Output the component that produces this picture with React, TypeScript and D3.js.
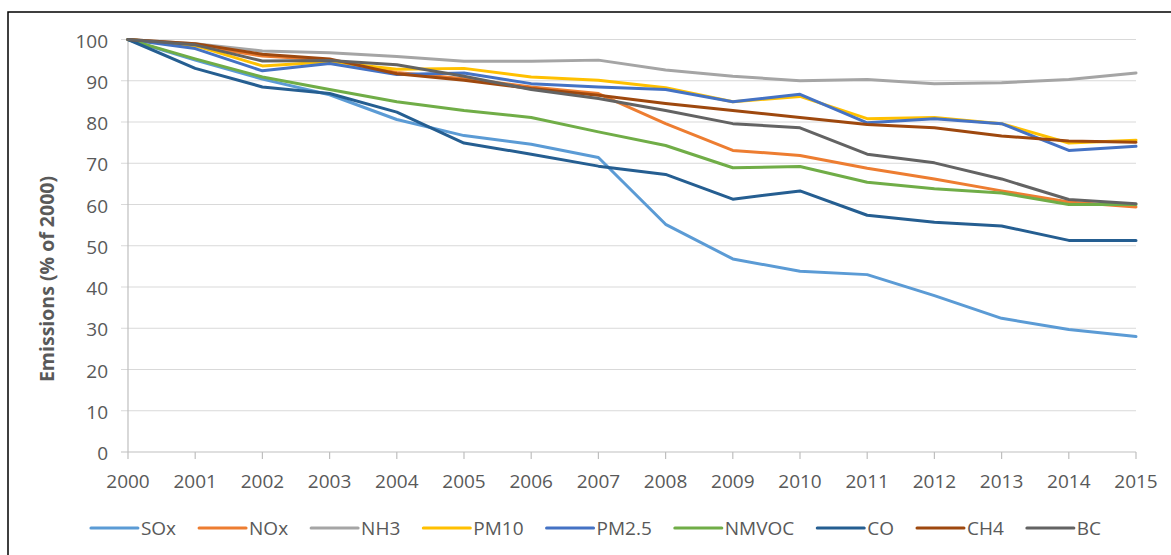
import React, { useRef, useEffect } from 'react';
import * as d3 from 'd3';

const years = [2000, 2001, 2002, 2003, 2004, 2005, 2006, 2007, 2008, 2009, 2010, 2011, 2012, 2013, 2014, 2015];
const yTicks = [0, 10, 20, 30, 40, 50, 60, 70, 80, 90, 100];

const seriesNames = ['SOx', 'NOx', 'NH3', 'PM10', 'PM2.5', 'NMVOC', 'CO', 'CH4', 'BC'];
const seriesColors = ['#5B9BD5', '#ED7D31', '#A5A5A5', '#FFC000', '#4472C4', '#70AD47', '#255E91', '#9E480E', '#636363'];

const sox = [100, 95, 90.4, 86.6, 80.6, 76.7, 74.6, 71.4, 55.2, 46.8, 43.8, 43.0, 37.9, 32.4, 29.7, 28.0];
const nox = [100, 98.5, 96, 95, 92, 90.5, 88.5, 86.9, 79.6, 73.1, 71.9, 68.8, 66.2, 63.3, 60.6, 59.4];
const nh3 = [100, 99, 97.2, 96.8, 95.9, 94.7, 94.7, 95.0, 92.6, 91.1, 90.0, 90.3, 89.3, 89.5, 90.3, 91.9];
const pm10 = [100, 98.5, 93.6, 94.6, 92.8, 93.0, 90.9, 90.1, 88.3, 84.9, 86.2, 80.8, 81.1, 79.6, 74.9, 75.6];
const pm25 = [100, 97.8, 92.4, 94.2, 91.5, 91.9, 89.3, 88.5, 87.9, 84.9, 86.7, 79.8, 80.8, 79.6, 73.1, 74.1];
const nmvoc = [100, 95.3, 90.9, 87.9, 84.9, 82.8, 81.1, 77.6, 74.3, 68.9, 69.2, 65.4, 63.8, 62.8, 60.0, 60.0];
const co = [100, 93, 88.5, 86.9, 82.4, 74.9, 72.2, 69.3, 67.3, 61.3, 63.3, 57.4, 55.7, 54.8, 51.3, 51.3];
const ch4 = [100, 99, 96.4, 95.3, 91.7, 90.1, 88.1, 86.5, 84.5, 82.8, 81.1, 79.4, 78.6, 76.6, 75.4, 75.1];
const bc = [100, 98.7, 94.8, 94.9, 93.9, 91.1, 87.9, 85.7, 82.8, 79.6, 78.6, 72.2, 70.1, 66.2, 61.2, 60.2];

const seriesValues = [sox, nox, nh3, pm10, pm25, nmvoc, co, ch4, bc];

const W = 1171;
const H = 555;
const FONT = '"Open Sans", sans-serif';

const App = () => {
  const svgRef = useRef<SVGSVGElement | null>(null);

  useEffect(() => {
    if (!svgRef.current) return;
    d3.select(svgRef.current).selectAll('*').remove();
    const svg = d3.select(svgRef.current);

    const x = d3.scaleLinear().domain([2000, 2015]).range([128, 1136]);
    const y = d3.scaleLinear().domain([0, 100]).range([452, 39.5]);

    // white background + outer frame (runs off the right/bottom edge)
    svg.append('rect').attr('width', W).attr('height', H).attr('fill', '#fff');
    svg.append('rect')
      .attr('x', 8).attr('y', 12)
      .attr('width', 1300).attr('height', 700)
      .attr('fill', 'none')
      .attr('stroke', '#000')
      .attr('stroke-width', 1.5);

    // gridlines
    svg.append('g')
      .selectAll('line')
      .data(yTicks.filter(t => t > 0))
      .enter()
      .append('line')
      .attr('x1', x(2000) - 7)
      .attr('x2', x(2015))
      .attr('y1', d => y(d))
      .attr('y2', d => y(d))
      .attr('stroke', '#D9D9D9')
      .attr('stroke-width', 1.2);

    // axes
    svg.append('line')
      .attr('x1', x(2000)).attr('x2', x(2000))
      .attr('y1', y(0)).attr('y2', y(100))
      .attr('stroke', '#BFBFBF').attr('stroke-width', 1.2);
    svg.append('line')
      .attr('x1', x(2000) - 7).attr('x2', x(2015))
      .attr('y1', y(0)).attr('y2', y(0))
      .attr('stroke', '#BFBFBF').attr('stroke-width', 1.2);
    svg.append('g')
      .selectAll('line')
      .data(years)
      .enter()
      .append('line')
      .attr('x1', d => x(d)).attr('x2', d => x(d))
      .attr('y1', y(0)).attr('y2', y(0) + 7)
      .attr('stroke', '#BFBFBF').attr('stroke-width', 1.2);

    // y tick labels
    svg.append('g')
      .selectAll('text')
      .data(yTicks)
      .enter()
      .append('text')
      .attr('x', 108)
      .attr('y', d => y(d) + 1.5)
      .attr('dy', '0.35em')
      .attr('text-anchor', 'end')
      .attr('fill', '#595959')
      .attr('font-family', FONT)
      .attr('font-size', '19px')
      .text(d => d);

    // x tick labels
    svg.append('g')
      .selectAll('text')
      .data(years)
      .enter()
      .append('text')
      .attr('x', d => x(d))
      .attr('y', 481)
      .attr('dy', '0.35em')
      .attr('text-anchor', 'middle')
      .attr('fill', '#595959')
      .attr('font-family', FONT)
      .attr('font-size', '19px')
      .text(d => d);

    // y axis title
    svg.append('text')
      .attr('transform', 'translate(47, 279) rotate(-90)')
      .attr('dy', '0.35em')
      .attr('text-anchor', 'middle')
      .attr('fill', '#595959')
      .attr('font-family', FONT)
      .attr('font-weight', 'bold')
      .attr('font-size', '19.5px')
      .text('Emissions (% of 2000)');

    // lines
    const line = d3.line<number>()
      .x((d, i) => x(years[i]))
      .y(d => y(d));

    seriesValues.forEach((vals, i) => {
      svg.append('path')
        .attr('d', line(vals))
        .attr('fill', 'none')
        .attr('stroke', seriesColors[i])
        .attr('stroke-width', 3)
        .attr('stroke-linejoin', 'round')
        .attr('stroke-linecap', 'round');
    });

    // legend
    const legend = svg.append('g');
    const swatch = 47;
    const gapText = 3;
    const gapItem = 23;
    let cursor = 0;
    seriesNames.forEach((name, i) => {
      const g = legend.append('g').attr('transform', `translate(${cursor}, 0)`);
      g.append('line')
        .attr('x1', 0).attr('x2', swatch)
        .attr('y1', 0).attr('y2', 0)
        .attr('stroke', seriesColors[i])
        .attr('stroke-width', 3)
        .attr('stroke-linecap', 'round');
      const t = g.append('text')
        .attr('x', swatch + gapText)
        .attr('y', 0)
        .attr('dy', '0.35em')
        .attr('fill', '#595959')
        .attr('font-family', FONT)
        .attr('font-size', '19px')
        .text(name);
      const tw = (t.node() as SVGTextElement).getComputedTextLength();
      cursor += swatch + gapText + tw + gapItem;
    });
    const legendWidth = cursor - gapItem;
    legend.attr('transform', `translate(${596 - legendWidth / 2}, 528)`);
  }, []);

  return (
    <svg
      ref={svgRef}
      width={W}
      height={H}
      style={{ position: 'absolute', left: 0, top: 0, display: 'block' }}
    />
  );
};

export default App;
